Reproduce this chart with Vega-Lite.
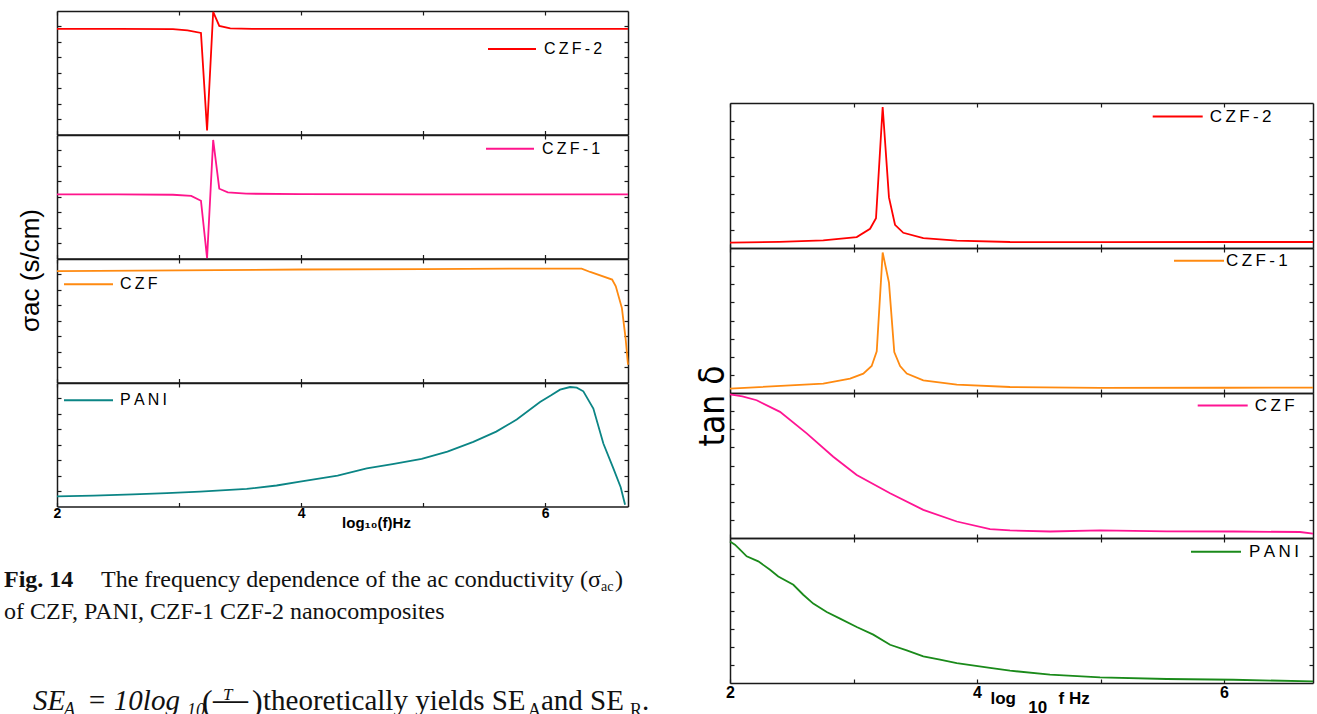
{
"$schema": "https://vega.github.io/schema/vega-lite/v6.json",
"background": "white",
"padding": {"left": 4, "top": 8, "right": 0, "bottom": 0},
"config": {
  "view": {"stroke": null},
  "font": "Liberation Sans",
  "axis": {"grid": false, "labels": false, "domainColor": "#1a1a1a", "domainWidth": 1.5, "tickColor": "#1a1a1a", "tickWidth": 1.2, "tickSize": -4, "labelFont": "Liberation Sans", "labelFontWeight": "bold", "labelColor": "#000", "labelFlush": false, "titleColor": "#000"},
  "legend": {"symbolType": "stroke", "symbolStrokeWidth": 2, "labelFont": "Liberation Sans", "labelColor": "#000", "labelLimit": 300, "padding": 0}
},
"datasets": {
  "sigma": [
    {"s":"CZF-2","f":2,"v":6.84},{"s":"CZF-2","f":2.5,"v":6.84},{"s":"CZF-2","f":2.95,"v":6.83},{"s":"CZF-2","f":3.07,"v":6.74},{"s":"CZF-2","f":3.18,"v":6.58},{"s":"CZF-2","f":3.23,"v":0.26},{"s":"CZF-2","f":3.28,"v":7.94},{"s":"CZF-2","f":3.33,"v":7.03},{"s":"CZF-2","f":3.42,"v":6.87},{"s":"CZF-2","f":3.6,"v":6.84},{"s":"CZF-2","f":4.5,"v":6.84},{"s":"CZF-2","f":5.5,"v":6.84},{"s":"CZF-2","f":6.68,"v":6.84},
    {"s":"CZF-1","f":2,"v":4.16},{"s":"CZF-1","f":2.5,"v":4.16},{"s":"CZF-1","f":2.95,"v":4.13},{"s":"CZF-1","f":3.1,"v":4.06},{"s":"CZF-1","f":3.18,"v":3.74},{"s":"CZF-1","f":3.23,"v":0.02},{"s":"CZF-1","f":3.28,"v":7.68},{"s":"CZF-1","f":3.33,"v":4.52},{"s":"CZF-1","f":3.4,"v":4.29},{"s":"CZF-1","f":3.55,"v":4.2},{"s":"CZF-1","f":4.0,"v":4.17},{"s":"CZF-1","f":5.0,"v":4.16},{"s":"CZF-1","f":6.68,"v":4.16},
    {"s":"CZF","f":2,"v":7.21},{"s":"CZF","f":3,"v":7.26},{"s":"CZF","f":4,"v":7.32},{"s":"CZF","f":5,"v":7.35},{"s":"CZF","f":6,"v":7.38},{"s":"CZF","f":6.3,"v":7.38},{"s":"CZF","f":6.37,"v":7.16},{"s":"CZF","f":6.55,"v":6.67},{"s":"CZF","f":6.58,"v":6.23},{"s":"CZF","f":6.63,"v":4.82},{"s":"CZF","f":6.66,"v":2.88},{"s":"CZF","f":6.68,"v":1.15},
    {"s":"PANI","f":2,"v":0.65},{"s":"PANI","f":2.3,"v":0.7},{"s":"PANI","f":2.623,"v":0.79},{"s":"PANI","f":2.9,"v":0.87},{"s":"PANI","f":3.172,"v":0.97},{"s":"PANI","f":3.555,"v":1.14},{"s":"PANI","f":3.8,"v":1.36},{"s":"PANI","f":3.992,"v":1.61},{"s":"PANI","f":4.3,"v":2.0},{"s":"PANI","f":4.539,"v":2.47},{"s":"PANI","f":4.75,"v":2.75},{"s":"PANI","f":4.989,"v":3.08},{"s":"PANI","f":5.2,"v":3.55},{"s":"PANI","f":5.412,"v":4.19},{"s":"PANI","f":5.6,"v":4.85},{"s":"PANI","f":5.768,"v":5.63},{"s":"PANI","f":5.959,"v":6.77},{"s":"PANI","f":6.05,"v":7.2},{"s":"PANI","f":6.123,"v":7.57},{"s":"PANI","f":6.205,"v":7.74},{"s":"PANI","f":6.26,"v":7.7},{"s":"PANI","f":6.314,"v":7.46},{"s":"PANI","f":6.396,"v":6.34},{"s":"PANI","f":6.478,"v":4.08},{"s":"PANI","f":6.56,"v":2.47},{"s":"PANI","f":6.62,"v":1.25},{"s":"PANI","f":6.656,"v":0.11}
  ],
  "tan": [
    {"s":"CZF-2","f":2,"v":0.30},{"s":"CZF-2","f":2.4,"v":0.34},{"s":"CZF-2","f":2.755,"v":0.42},{"s":"CZF-2","f":3.026,"v":0.60},{"s":"CZF-2","f":3.134,"v":1.06},{"s":"CZF-2","f":3.182,"v":1.64},{"s":"CZF-2","f":3.236,"v":7.78},{"s":"CZF-2","f":3.287,"v":2.79},{"s":"CZF-2","f":3.336,"v":1.28},{"s":"CZF-2","f":3.403,"v":0.84},{"s":"CZF-2","f":3.565,"v":0.55},{"s":"CZF-2","f":3.836,"v":0.41},{"s":"CZF-2","f":4.267,"v":0.33},{"s":"CZF-2","f":5.0,"v":0.32},{"s":"CZF-2","f":6.0,"v":0.33},{"s":"CZF-2","f":6.72,"v":0.33},
    {"s":"CZF-1","f":2,"v":0.24},{"s":"CZF-1","f":2.755,"v":0.52},{"s":"CZF-1","f":2.972,"v":0.79},{"s":"CZF-1","f":3.079,"v":1.07},{"s":"CZF-1","f":3.147,"v":1.49},{"s":"CZF-1","f":3.188,"v":2.30},{"s":"CZF-1","f":3.236,"v":7.75},{"s":"CZF-1","f":3.287,"v":6.09},{"s":"CZF-1","f":3.33,"v":2.26},{"s":"CZF-1","f":3.377,"v":1.49},{"s":"CZF-1","f":3.431,"v":1.07},{"s":"CZF-1","f":3.565,"v":0.70},{"s":"CZF-1","f":3.836,"v":0.46},{"s":"CZF-1","f":4.267,"v":0.33},{"s":"CZF-1","f":5.0,"v":0.28},{"s":"CZF-1","f":6.0,"v":0.29},{"s":"CZF-1","f":6.72,"v":0.30},
    {"s":"CZF","f":2,"v":7.93},{"s":"CZF","f":2.1,"v":7.82},{"s":"CZF","f":2.216,"v":7.60},{"s":"CZF","f":2.405,"v":6.96},{"s":"CZF","f":2.621,"v":5.77},{"s":"CZF","f":2.836,"v":4.48},{"s":"CZF","f":3.026,"v":3.48},{"s":"CZF","f":3.296,"v":2.47},{"s":"CZF","f":3.565,"v":1.55},{"s":"CZF","f":3.836,"v":0.91},{"s":"CZF","f":4.105,"v":0.49},{"s":"CZF","f":4.267,"v":0.42},{"s":"CZF","f":4.591,"v":0.36},{"s":"CZF","f":4.996,"v":0.42},{"s":"CZF","f":5.536,"v":0.36},{"s":"CZF","f":6.075,"v":0.36},{"s":"CZF","f":6.615,"v":0.33},{"s":"CZF","f":6.72,"v":0.24},
    {"s":"PANI","f":2,"v":7.81},{"s":"PANI","f":2.04,"v":7.63},{"s":"PANI","f":2.081,"v":7.36},{"s":"PANI","f":2.135,"v":6.99},{"s":"PANI","f":2.229,"v":6.71},{"s":"PANI","f":2.324,"v":6.25},{"s":"PANI","f":2.391,"v":5.88},{"s":"PANI","f":2.513,"v":5.42},{"s":"PANI","f":2.593,"v":4.87},{"s":"PANI","f":2.674,"v":4.38},{"s":"PANI","f":2.783,"v":3.92},{"s":"PANI","f":2.891,"v":3.55},{"s":"PANI","f":3.026,"v":3.09},{"s":"PANI","f":3.16,"v":2.67},{"s":"PANI","f":3.296,"v":2.11},{"s":"PANI","f":3.431,"v":1.80},{"s":"PANI","f":3.565,"v":1.47},{"s":"PANI","f":3.7,"v":1.29},{"s":"PANI","f":3.836,"v":1.10},{"s":"PANI","f":4.105,"v":0.83},{"s":"PANI","f":4.267,"v":0.68},{"s":"PANI","f":4.591,"v":0.46},{"s":"PANI","f":4.996,"v":0.31},{"s":"PANI","f":5.536,"v":0.22},{"s":"PANI","f":6.075,"v":0.18},{"s":"PANI","f":6.72,"v":0.09}
  ],
  "caption": [
    {"p":"fig","text":"Fig. 14","line":1,"indent":0},
    {"p":"c1","text":"The frequency dependence of the ac conductivity (σ","line":1,"indent":0},
    {"p":"c1s","text":"ac","line":1,"indent":0},
    {"p":"c1e","text":")","line":1,"indent":0},
    {"p":"c2","text":"of CZF, PANI, CZF-1 CZF-2 nanocomposites","line":2,"indent":0},
    {"p":"fi1","text":"SE","line":4.84,"indent":1},
    {"p":"fs1","text":"A","line":4.84,"indent":1},
    {"p":"fi2","text":"= 10log","line":4.84,"indent":1},
    {"p":"fs2","text":"10","line":4.84,"indent":1},
    {"p":"fp1","text":"(","line":4.84,"indent":1},
    {"p":"ft","text":"T","line":4.84,"indent":1},
    {"p":"fbar","text":"—","line":4.84,"indent":1},
    {"p":"fb","text":"1−R","line":4.84,"indent":1},
    {"p":"fp2","text":")","line":4.84,"indent":1},
    {"p":"fn1","text":"theoretically yields SE","line":4.84,"indent":1},
    {"p":"fs3","text":"A","line":4.84,"indent":1},
    {"p":"fn2","text":"and SE","line":4.84,"indent":1},
    {"p":"fs4","text":"R","line":4.84,"indent":1},
    {"p":"fn3","text":".","line":4.84,"indent":1}
  ]
},
"hconcat": [
  {
    "vconcat": [
      {
        "width": 571, "height": 123.5,
        "data": {"name": "sigma"},
        "transform": [{"filter": "datum.s === 'CZF-2'"}],
        "layer": [
          {"mark": {"type": "line", "strokeWidth": 1.8},
           "encoding": {
             "x": {"field": "f", "type": "quantitative", "scale": {"domain": [2, 6.68], "nice": false, "zero": false}, "axis": {"orient": "bottom", "values": [2,3,4,5,6], "title": null}},
             "y": {"field": "v", "type": "quantitative", "scale": {"domain": [0, 8], "nice": false, "zero": false}, "axis": {"orient": "left", "values": [1,2,3,4,5,6,7], "title": null}},
             "color": {"field": "s", "type": "nominal", "scale": {"domain": ["CZF-2"], "range": ["#ff0000"]}, "legend": {"title": null, "orient": "none", "legendX": 430, "legendY": 13, "symbolSize": 2304, "labelFontSize": 16, "labelOffset": 7, "labelExpr": "join(split(datum.label, ''), '\u2009')"}}
           }},
          {"mark": {"type": "line", "opacity": 0},
           "encoding": {
             "x": {"field": "f", "type": "quantitative", "scale": {"domain": [2, 6.68], "nice": false, "zero": false}, "axis": {"orient": "top", "values": [2,3,4,5,6], "title": null}},
             "y": {"field": "v", "type": "quantitative", "scale": {"domain": [0, 8], "nice": false, "zero": false}, "axis": {"orient": "right", "values": [1,2,3,4,5,6,7], "title": null}}
           }}
        ],
        "resolve": {"axis": {"x": "independent", "y": "independent"}}
      },
      {
        "width": 571, "height": 123.5,
        "data": {"name": "sigma"},
        "transform": [{"filter": "datum.s === 'CZF-1'"}],
        "layer": [
          {"mark": {"type": "line", "strokeWidth": 1.8},
           "encoding": {
             "x": {"field": "f", "type": "quantitative", "scale": {"domain": [2, 6.68], "nice": false, "zero": false}, "axis": {"orient": "bottom", "values": [2,3,4,5,6], "title": null}},
             "y": {"field": "v", "type": "quantitative", "scale": {"domain": [0, 8], "nice": false, "zero": false}, "axis": {"orient": "left", "values": [1,2,3,4,5,6,7], "title": "σac (s/cm)", "titleFont": "Liberation Sans", "titleFontWeight": "normal", "titleFontSize": 26, "titleX": -27, "titleY": 135, "titleAlign": "center", "titleBaseline": "middle", "titleAngle": -90}},
             "color": {"field": "s", "type": "nominal", "scale": {"domain": ["CZF-1"], "range": ["#ff148c"]}, "legend": {"title": null, "orient": "none", "legendX": 428, "legendY": -11.3, "symbolSize": 2304, "labelFontSize": 16, "labelOffset": 7, "labelExpr": "join(split(datum.label, ''), '\u2009')"}}
           }},
          {"mark": {"type": "line", "opacity": 0},
           "encoding": {
             "x": {"field": "f", "type": "quantitative", "scale": {"domain": [2, 6.68], "nice": false, "zero": false}, "axis": {"orient": "top", "values": [2,3,4,5,6], "title": null}},
             "y": {"field": "v", "type": "quantitative", "scale": {"domain": [0, 8], "nice": false, "zero": false}, "axis": {"orient": "right", "values": [1,2,3,4,5,6,7], "title": null}}
           }}
        ],
        "resolve": {"axis": {"x": "independent", "y": "independent"}}
      },
      {
        "width": 571, "height": 123.5,
        "data": {"name": "sigma"},
        "transform": [{"filter": "datum.s === 'CZF'"}],
        "layer": [
          {"mark": {"type": "line", "strokeWidth": 1.8},
           "encoding": {
             "x": {"field": "f", "type": "quantitative", "scale": {"domain": [2, 6.68], "nice": false, "zero": false}, "axis": {"orient": "bottom", "values": [2,3,4,5,6], "title": null}},
             "y": {"field": "v", "type": "quantitative", "scale": {"domain": [0, 8], "nice": false, "zero": false}, "axis": {"orient": "left", "values": [1,2,3,4,5,6,7], "title": null}},
             "color": {"field": "s", "type": "nominal", "scale": {"domain": ["CZF"], "range": ["#ff8a10"]}, "legend": {"title": null, "orient": "none", "legendX": 6, "legendY": -0.3, "symbolSize": 2401, "labelFontSize": 16, "labelOffset": 6, "labelExpr": "join(split(datum.label, ''), '\u2009')"}}
           }},
          {"mark": {"type": "line", "opacity": 0},
           "encoding": {
             "x": {"field": "f", "type": "quantitative", "scale": {"domain": [2, 6.68], "nice": false, "zero": false}, "axis": {"orient": "top", "values": [2,3,4,5,6], "title": null}},
             "y": {"field": "v", "type": "quantitative", "scale": {"domain": [0, 8], "nice": false, "zero": false}, "axis": {"orient": "right", "values": [1,2,3,4,5,6,7], "title": null}}
           }}
        ],
        "resolve": {"axis": {"x": "independent", "y": "independent"}}
      },
      {
        "width": 571, "height": 123.5,
        "data": {"name": "sigma"},
        "transform": [{"filter": "datum.s === 'PANI'"}],
        "layer": [
          {"mark": {"type": "line", "strokeWidth": 1.8},
           "encoding": {
             "x": {"field": "f", "type": "quantitative", "scale": {"domain": [2, 6.68], "nice": false, "zero": false}, "axis": {"orient": "bottom", "values": [2,3,4,5,6], "labels": true, "labelExpr": "datum.value % 2 == 0 ? datum.label : ''", "labelFontSize": 14, "labelPadding": 4, "title": "log₁₀(f)Hz", "titleFont": "Liberation Sans", "titleFontWeight": "bold", "titleFontSize": 15, "titleX": 319, "titleY": 16, "titleBaseline": "middle", "titleAlign": "center"}},
             "y": {"field": "v", "type": "quantitative", "scale": {"domain": [0, 8], "nice": false, "zero": false}, "axis": {"orient": "left", "values": [1,2,3,4,5,6,7], "title": null}},
             "color": {"field": "s", "type": "nominal", "scale": {"domain": ["PANI"], "range": ["#0b8585"]}, "legend": {"title": null, "orient": "none", "legendX": 6, "legendY": -8.3, "symbolSize": 2401, "labelFontSize": 16, "labelOffset": 6, "labelExpr": "join(split(datum.label, ''), '\u2009')"}}
           }},
          {"mark": {"type": "line", "opacity": 0},
           "encoding": {
             "x": {"field": "f", "type": "quantitative", "scale": {"domain": [2, 6.68], "nice": false, "zero": false}, "axis": {"orient": "top", "values": [2,3,4,5,6], "title": null}},
             "y": {"field": "v", "type": "quantitative", "scale": {"domain": [0, 8], "nice": false, "zero": false}, "axis": {"orient": "right", "values": [1,2,3,4,5,6,7], "title": null}}
           }}
        ],
        "resolve": {"axis": {"x": "independent", "y": "independent"}}
      },
      {
        "width": 571, "height": 209,
        "data": {"name": "caption"},
        "encoding": {
          "x": {"field": "indent", "type": "quantitative", "scale": {"domain": [0, 1], "range": [-53, -25], "nice": false, "zero": false}, "axis": null},
          "y": {"field": "line", "type": "quantitative", "scale": {"domain": [1, 2], "range": [80, 112], "nice": false, "zero": false}, "axis": null},
          "text": {"field": "text", "type": "nominal"}
        },
        "layer": [
          {"transform": [{"filter": "datum.p === 'fig'"}], "mark": {"type": "text", "align": "left", "baseline": "alphabetic", "font": "Liberation Serif", "fontSize": 24, "fontWeight": "bold", "color": "#111"}},
          {"transform": [{"filter": "datum.p === 'c1'"}], "mark": {"type": "text", "align": "left", "baseline": "alphabetic", "font": "Liberation Serif", "fontSize": 24, "color": "#111", "dx": 97}},
          {"transform": [{"filter": "datum.p === 'c1s'"}], "mark": {"type": "text", "align": "left", "baseline": "alphabetic", "font": "Liberation Serif", "fontSize": 14, "color": "#111", "dx": 597, "dy": 4}},
          {"transform": [{"filter": "datum.p === 'c1e'"}], "mark": {"type": "text", "align": "left", "baseline": "alphabetic", "font": "Liberation Serif", "fontSize": 24, "color": "#111", "dx": 611}},
          {"transform": [{"filter": "datum.p === 'c2'"}], "mark": {"type": "text", "align": "left", "baseline": "alphabetic", "font": "Liberation Serif", "fontSize": 24, "color": "#111"}},
          {"transform": [{"filter": "datum.p === 'fi1'"}], "mark": {"type": "text", "align": "left", "baseline": "alphabetic", "font": "Liberation Serif", "fontStyle": "italic", "fontSize": 29, "color": "#111", "dx": 1}},
          {"transform": [{"filter": "datum.p === 'fs1'"}], "mark": {"type": "text", "align": "left", "baseline": "alphabetic", "font": "Liberation Serif", "fontStyle": "italic", "fontSize": 18, "color": "#111", "dx": 32, "dy": 5}},
          {"transform": [{"filter": "datum.p === 'fi2'"}], "mark": {"type": "text", "align": "left", "baseline": "alphabetic", "font": "Liberation Serif", "fontStyle": "italic", "fontSize": 29, "color": "#111", "dx": 55}},
          {"transform": [{"filter": "datum.p === 'fs2'"}], "mark": {"type": "text", "align": "left", "baseline": "alphabetic", "font": "Liberation Serif", "fontStyle": "italic", "fontSize": 18, "color": "#111", "dx": 155, "dy": 6}},
          {"transform": [{"filter": "datum.p === 'fp1'"}], "mark": {"type": "text", "align": "left", "baseline": "alphabetic", "font": "Liberation Serif", "fontSize": 32, "color": "#111", "dx": 170, "dy": 2}},
          {"transform": [{"filter": "datum.p === 'ft'"}], "mark": {"type": "text", "align": "left", "baseline": "alphabetic", "font": "Liberation Serif", "fontStyle": "italic", "fontSize": 17, "color": "#111", "dx": 191, "dy": -10}},
          {"transform": [{"filter": "datum.p === 'fbar'"}], "mark": {"type": "text", "align": "left", "baseline": "alphabetic", "font": "Liberation Serif", "fontSize": 35, "color": "#111", "dx": 181, "dy": 1}},
          {"transform": [{"filter": "datum.p === 'fb'"}], "mark": {"type": "text", "align": "left", "baseline": "alphabetic", "font": "Liberation Serif", "fontSize": 17, "color": "#111", "dx": 183, "dy": 18}},
          {"transform": [{"filter": "datum.p === 'fp2'"}], "mark": {"type": "text", "align": "left", "baseline": "alphabetic", "font": "Liberation Serif", "fontSize": 32, "color": "#111", "dx": 220, "dy": 2}},
          {"transform": [{"filter": "datum.p === 'fn1'"}], "mark": {"type": "text", "align": "left", "baseline": "alphabetic", "font": "Liberation Serif", "fontSize": 29, "color": "#111", "dx": 231}},
          {"transform": [{"filter": "datum.p === 'fs3'"}], "mark": {"type": "text", "align": "left", "baseline": "alphabetic", "font": "Liberation Serif", "fontSize": 18, "color": "#111", "dx": 496, "dy": 6}},
          {"transform": [{"filter": "datum.p === 'fn2'"}], "mark": {"type": "text", "align": "left", "baseline": "alphabetic", "font": "Liberation Serif", "fontSize": 29, "color": "#111", "dx": 509}},
          {"transform": [{"filter": "datum.p === 'fs4'"}], "mark": {"type": "text", "align": "left", "baseline": "alphabetic", "font": "Liberation Serif", "fontSize": 18, "color": "#111", "dx": 598, "dy": 6}},
          {"transform": [{"filter": "datum.p === 'fn3'"}], "mark": {"type": "text", "align": "left", "baseline": "alphabetic", "font": "Liberation Serif", "fontSize": 29, "color": "#111", "dx": 610}}
        ]
      }
    ],
    "spacing": 0,
    "bounds": "flush",
    "resolve": {"scale": {"color": "independent"}, "legend": {"color": "independent"}}
  },
  {
    "vconcat": [
      {"width": 583, "height": 91.5, "data": {"values": []}, "mark": "point", "encoding": {}},
      {
        "width": 583, "height": 145,
        "data": {"name": "tan"},
        "transform": [{"filter": "datum.s === 'CZF-2'"}],
        "layer": [
          {"mark": {"type": "line", "strokeWidth": 1.8},
           "encoding": {
             "x": {"field": "f", "type": "quantitative", "scale": {"domain": [2, 6.72], "nice": false, "zero": false}, "axis": {"orient": "bottom", "values": [2,3,4,5,6], "title": null}},
             "y": {"field": "v", "type": "quantitative", "scale": {"domain": [0, 8], "nice": false, "zero": false}, "axis": {"orient": "left", "values": [1,2,3,4,5,6,7], "title": null}},
             "color": {"field": "s", "type": "nominal", "scale": {"domain": ["CZF-2"], "range": ["#ff0000"]}, "legend": {"title": null, "orient": "none", "legendX": 421.7, "legendY": -12.5, "symbolSize": 2500, "labelFontSize": 17, "labelOffset": 6, "labelExpr": "join(split(datum.label, ''), '\u2009')"}}
           }},
          {"mark": {"type": "line", "opacity": 0},
           "encoding": {
             "x": {"field": "f", "type": "quantitative", "scale": {"domain": [2, 6.72], "nice": false, "zero": false}, "axis": {"orient": "top", "values": [2,3,4,5,6], "title": null}},
             "y": {"field": "v", "type": "quantitative", "scale": {"domain": [0, 8], "nice": false, "zero": false}, "axis": {"orient": "right", "values": [1,2,3,4,5,6,7], "title": null}}
           }}
        ],
        "resolve": {"axis": {"x": "independent", "y": "independent"}}
      },
      {
        "width": 583, "height": 145,
        "data": {"name": "tan"},
        "transform": [{"filter": "datum.s === 'CZF-1'"}],
        "layer": [
          {"mark": {"type": "line", "strokeWidth": 1.8},
           "encoding": {
             "x": {"field": "f", "type": "quantitative", "scale": {"domain": [2, 6.72], "nice": false, "zero": false}, "axis": {"orient": "bottom", "values": [2,3,4,5,6], "title": null}},
             "y": {"field": "v", "type": "quantitative", "scale": {"domain": [0, 8], "nice": false, "zero": false}, "axis": {"orient": "left", "values": [1,2,3,4,5,6,7], "title": null}},
             "color": {"field": "s", "type": "nominal", "scale": {"domain": ["CZF-1"], "range": ["#ff8a10"]}, "legend": {"title": null, "orient": "none", "legendX": 443, "legendY": -13.2, "symbolSize": 2500, "labelFontSize": 17, "labelOffset": 1, "labelExpr": "join(split(datum.label, ''), '\u2009')"}}
           }},
          {"mark": {"type": "line", "opacity": 0},
           "encoding": {
             "x": {"field": "f", "type": "quantitative", "scale": {"domain": [2, 6.72], "nice": false, "zero": false}, "axis": {"orient": "top", "values": [2,3,4,5,6], "title": null}},
             "y": {"field": "v", "type": "quantitative", "scale": {"domain": [0, 8], "nice": false, "zero": false}, "axis": {"orient": "right", "values": [1,2,3,4,5,6,7], "title": null}}
           }}
        ],
        "resolve": {"axis": {"x": "independent", "y": "independent"}}
      },
      {
        "width": 583, "height": 145,
        "data": {"name": "tan"},
        "transform": [{"filter": "datum.s === 'CZF'"}],
        "layer": [
          {"mark": {"type": "line", "strokeWidth": 1.8},
           "encoding": {
             "x": {"field": "f", "type": "quantitative", "scale": {"domain": [2, 6.72], "nice": false, "zero": false}, "axis": {"orient": "bottom", "values": [2,3,4,5,6], "title": null}},
             "y": {"field": "v", "type": "quantitative", "scale": {"domain": [0, 8], "nice": false, "zero": false}, "axis": {"orient": "left", "values": [1,2,3,4,5,6,7], "title": "tan δ", "titleFont": "Liberation Sans Narrow, DejaVu Sans Condensed, sans-serif", "titleFontWeight": "normal", "titleFontSize": 35, "titleX": -18, "titleY": 12.5, "titleAlign": "center", "titleBaseline": "middle", "titleAngle": -90}},
             "color": {"field": "s", "type": "nominal", "scale": {"domain": ["CZF"], "range": ["#ff1493"]}, "legend": {"title": null, "orient": "none", "legendX": 466.7, "legendY": -13.5, "symbolSize": 2500, "labelFontSize": 17, "labelOffset": 6, "labelExpr": "join(split(datum.label, ''), '\u2009')"}}
           }},
          {"mark": {"type": "line", "opacity": 0},
           "encoding": {
             "x": {"field": "f", "type": "quantitative", "scale": {"domain": [2, 6.72], "nice": false, "zero": false}, "axis": {"orient": "top", "values": [2,3,4,5,6], "title": null}},
             "y": {"field": "v", "type": "quantitative", "scale": {"domain": [0, 8], "nice": false, "zero": false}, "axis": {"orient": "right", "values": [1,2,3,4,5,6,7], "title": null}}
           }}
        ],
        "resolve": {"axis": {"x": "independent", "y": "independent"}}
      },
      {
        "width": 583, "height": 145,
        "data": {"name": "tan"},
        "transform": [{"filter": "datum.s === 'PANI'"}],
        "layer": [
          {"mark": {"type": "line", "strokeWidth": 1.8},
           "encoding": {
             "x": {"field": "f", "type": "quantitative", "scale": {"domain": [2, 6.72], "nice": false, "zero": false}, "axis": {"orient": "bottom", "values": [2,3,4,5,6], "labels": true, "labelExpr": "datum.value % 2 == 0 ? datum.label : ''", "labelFontSize": 16, "labelPadding": 5, "title": ["log\u00a0\u00a0\u00a0\u00a0\u00a0\u00a0\u00a0\u00a0\u00a0f Hz", "\u200b\u00a0\u00a0\u00a0\u00a0\u00a0\u00a0\u00a0\u00a010"], "titleFont": "Liberation Sans", "titleFontWeight": "bold", "titleFontSize": 17, "titleLineHeight": 9, "titleX": 260, "titleY": 20, "titleBaseline": "alphabetic", "titleAlign": "left"}},
             "y": {"field": "v", "type": "quantitative", "scale": {"domain": [0, 8], "nice": false, "zero": false}, "axis": {"orient": "left", "values": [1,2,3,4,5,6,7], "title": null}},
             "color": {"field": "s", "type": "nominal", "scale": {"domain": ["PANI"], "range": ["#1a8a1a"]}, "legend": {"title": null, "orient": "none", "legendX": 460, "legendY": -12.3, "symbolSize": 2500, "labelFontSize": 17, "labelOffset": 7, "labelExpr": "join(split(datum.label, ''), '\u2009')"}}
           }},
          {"mark": {"type": "line", "opacity": 0},
           "encoding": {
             "x": {"field": "f", "type": "quantitative", "scale": {"domain": [2, 6.72], "nice": false, "zero": false}, "axis": {"orient": "top", "values": [2,3,4,5,6], "title": null}},
             "y": {"field": "v", "type": "quantitative", "scale": {"domain": [0, 8], "nice": false, "zero": false}, "axis": {"orient": "right", "values": [1,2,3,4,5,6,7], "title": null}}
           }}
        ],
        "resolve": {"axis": {"x": "independent", "y": "independent"}}
      }
    ],
    "spacing": 0,
    "bounds": "flush",
    "resolve": {"scale": {"color": "independent"}, "legend": {"color": "independent"}}
  }
],
"spacing": 673,
"bounds": "flush",
"resolve": {"scale": {"color": "independent"}, "legend": {"color": "independent"}}
}
